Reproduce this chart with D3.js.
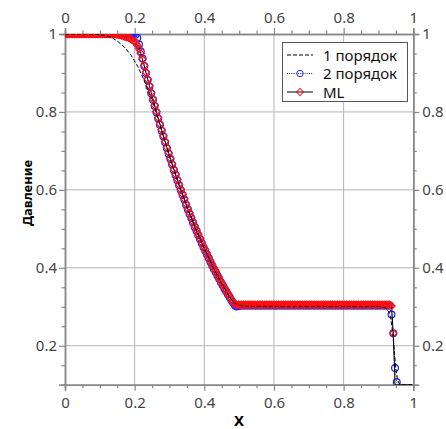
<!DOCTYPE html>
<html>
<head>
<meta charset="utf-8">
<script src="https://cdn.jsdelivr.net/npm/d3@7.9.0/dist/d3.min.js"></script>
<style>
  body { margin: 0; background: #fff; }
  svg { display: block; font-family: "Noto Sans", sans-serif; }
</style>
</head>
<body>
<script>
// cell centres of the 200-cell grid (2nd order and ML)
const xGrid = [
  0.0025,0.0075,0.0125,0.0175,0.0225,0.0275,0.0325,0.0375,0.0425,0.0475,
  0.0525,0.0575,0.0625,0.0675,0.0725,0.0775,0.0825,0.0875,0.0925,0.0975,
  0.1025,0.1075,0.1125,0.1175,0.1225,0.1275,0.1325,0.1375,0.1425,0.1475,
  0.1525,0.1575,0.1625,0.1675,0.1725,0.1775,0.1825,0.1875,0.1925,0.1975,
  0.2025,0.2075,0.2125,0.2175,0.2225,0.2275,0.2325,0.2375,0.2425,0.2475,
  0.2525,0.2575,0.2625,0.2675,0.2725,0.2775,0.2825,0.2875,0.2925,0.2975,
  0.3025,0.3075,0.3125,0.3175,0.3225,0.3275,0.3325,0.3375,0.3425,0.3475,
  0.3525,0.3575,0.3625,0.3675,0.3725,0.3775,0.3825,0.3875,0.3925,0.3975,
  0.4025,0.4075,0.4125,0.4175,0.4225,0.4275,0.4325,0.4375,0.4425,0.4475,
  0.4525,0.4575,0.4625,0.4675,0.4725,0.4775,0.4825,0.4875,0.4925,0.4975,
  0.5025,0.5075,0.5125,0.5175,0.5225,0.5275,0.5325,0.5375,0.5425,0.5475,
  0.5525,0.5575,0.5625,0.5675,0.5725,0.5775,0.5825,0.5875,0.5925,0.5975,
  0.6025,0.6075,0.6125,0.6175,0.6225,0.6275,0.6325,0.6375,0.6425,0.6475,
  0.6525,0.6575,0.6625,0.6675,0.6725,0.6775,0.6825,0.6875,0.6925,0.6975,
  0.7025,0.7075,0.7125,0.7175,0.7225,0.7275,0.7325,0.7375,0.7425,0.7475,
  0.7525,0.7575,0.7625,0.7675,0.7725,0.7775,0.7825,0.7875,0.7925,0.7975,
  0.8025,0.8075,0.8125,0.8175,0.8225,0.8275,0.8325,0.8375,0.8425,0.8475,
  0.8525,0.8575,0.8625,0.8675,0.8725,0.8775,0.8825,0.8875,0.8925,0.8975,
  0.9025,0.9075,0.9125,0.9175,0.9225,0.9275,0.9325,0.9375,0.9425,0.9475,
  0.9525,0.9575,0.9625,0.9675,0.9725,0.9775,0.9825,0.9875,0.9925,0.9975
];

const p2nd = [
  1,1,1,1,1,1,1,1,1,1,
  1,1,1,1,1,1,1,1,1,1,
  1,1,1,1,1,1,1,1,1,1,
  1,1,1,1,1,1,1,1,1,1,
  0.998,0.990,0.973,0.955,0.937,0.918,0.900,0.882,0.865,0.848,
  0.831,0.815,0.799,0.783,0.767,0.752,0.737,0.722,0.707,0.693,
  0.679,0.665,0.651,0.638,0.625,0.612,0.599,0.587,0.575,0.562,
  0.550,0.539,0.528,0.516,0.505,0.495,0.484,0.474,0.463,0.453,
  0.444,0.434,0.425,0.415,0.406,0.397,0.389,0.380,0.372,0.363,
  0.355,0.347,0.340,0.332,0.325,0.317,0.310,0.304,0.301,0.302,
  0.303,0.303,0.303,0.303,0.303,0.303,0.303,0.303,0.303,0.303,
  0.303,0.303,0.303,0.303,0.303,0.303,0.303,0.303,0.303,0.303,
  0.303,0.303,0.303,0.303,0.303,0.303,0.303,0.303,0.303,0.303,
  0.303,0.303,0.303,0.303,0.303,0.303,0.303,0.303,0.303,0.303,
  0.303,0.303,0.303,0.303,0.303,0.303,0.303,0.303,0.303,0.303,
  0.303,0.303,0.303,0.303,0.303,0.303,0.303,0.303,0.303,0.303,
  0.303,0.303,0.303,0.303,0.303,0.303,0.303,0.303,0.303,0.303,
  0.303,0.303,0.303,0.303,0.303,0.303,0.303,0.303,0.303,0.303,
  0.303,0.303,0.303,0.303,0.303,0.303,0.303,0.280,0.232,0.143,
  0.106,0.1,0.1,0.1,0.1,0.1,0.1,0.1,0.1,0.1
];

const pML = [
  1,1,1,1,1,1,1,1,1,1,
  1,1,1,1,1,1,1,1,1,1,
  1,1,1,1,1,1,1,1,1,0.999,
  0.998,0.997,0.996,0.995,0.993,0.992,0.990,0.988,0.985,0.982,
  0.978,0.971,0.962,0.950,0.935,0.919,0.902,0.884,0.867,0.850,
  0.833,0.817,0.801,0.785,0.769,0.754,0.739,0.724,0.709,0.695,
  0.681,0.667,0.653,0.640,0.627,0.614,0.601,0.589,0.577,0.564,
  0.552,0.541,0.530,0.518,0.507,0.497,0.486,0.476,0.465,0.455,
  0.446,0.436,0.427,0.417,0.408,0.399,0.391,0.382,0.374,0.365,
  0.357,0.349,0.342,0.334,0.327,0.319,0.312,0.307,0.305,0.305,
  0.305,0.305,0.305,0.305,0.305,0.305,0.305,0.305,0.305,0.305,
  0.305,0.305,0.305,0.305,0.305,0.305,0.305,0.305,0.305,0.305,
  0.305,0.305,0.305,0.305,0.305,0.305,0.305,0.305,0.305,0.305,
  0.305,0.305,0.305,0.305,0.305,0.305,0.305,0.305,0.305,0.305,
  0.305,0.305,0.305,0.305,0.305,0.305,0.305,0.305,0.305,0.305,
  0.305,0.305,0.305,0.305,0.305,0.305,0.305,0.305,0.305,0.305,
  0.305,0.305,0.305,0.305,0.305,0.305,0.305,0.305,0.305,0.305,
  0.305,0.305,0.305,0.305,0.305,0.305,0.305,0.305,0.305,0.305,
  0.305,0.305,0.305,0.305,0.305,0.305,0.305,0.302,0.232,0.1,
  0.1,0.1,0.1,0.1,0.1,0.1,0.1,0.1,0.1,0.1
];

// 1st order curve (line only)
const x1st = [0, 0.06, 0.09, 0.11, 0.13, 0.15, 0.17, 0.19, 0.21, 0.23, 0.25, 0.27, 0.29,
  0.31, 0.33, 0.35, 0.37, 0.39, 0.41, 0.43, 0.45, 0.47, 0.48, 0.49, 0.50, 0.52, 0.60,
  0.70, 0.80, 0.90, 0.91, 0.92, 0.93, 0.935, 0.94, 0.945, 0.95, 0.955, 0.96, 0.97, 1];
const p1st = [1, 1, 0.999, 0.997, 0.993, 0.982, 0.967, 0.945, 0.915, 0.876, 0.832, 0.774, 0.714,
  0.658, 0.605, 0.556, 0.511, 0.469, 0.430, 0.393, 0.359, 0.329, 0.316, 0.308, 0.304, 0.301, 0.3005,
  0.3005, 0.3005, 0.3005, 0.300, 0.297, 0.287, 0.272, 0.240, 0.190, 0.140, 0.112, 0.102, 0.100, 0.100];

const xMajor = [0, 0.2, 0.4, 0.6, 0.8, 1];
const yMajor = [0.2, 0.4, 0.6, 0.8, 1];
const xMinor = [0.05,0.1,0.15,0.25,0.3,0.35,0.45,0.5,0.55,0.65,0.7,0.75,0.85,0.9,0.95];
const yMinor = [0.1,0.15,0.25,0.3,0.35,0.45,0.5,0.55,0.65,0.7,0.75,0.85,0.9,0.95];
const seriesNames = ["1 порядок", "2 порядок", "ML"];

const width = 446, height = 429;
const plotLeft = 65, plotRight = 413.3, plotTop = 34, plotBottom = 384.7;

const x = d3.scaleLinear().domain([0, 1]).range([plotLeft, plotRight]);
const y = d3.scaleLinear().domain([0.1, 1]).range([plotBottom, plotTop]);

const svg = d3.select("body").append("svg").attr("width", width).attr("height", height);

svg.append("defs").append("clipPath").attr("id", "plot-clip")
  .append("rect").attr("x", plotLeft).attr("y", plotTop)
  .attr("width", plotRight - plotLeft).attr("height", plotBottom - plotTop);

// grid
const grid = svg.append("g").attr("stroke", "#b4b4b4").attr("stroke-width", 1);
grid.selectAll(".gx").data(xMajor.slice(1, -1)).join("line")
  .attr("x1", (d) => x(d)).attr("x2", (d) => x(d)).attr("y1", plotTop).attr("y2", plotBottom);
grid.selectAll(".gy").data(yMajor.slice(0, -1)).join("line")
  .attr("y1", (d) => y(d)).attr("y2", (d) => y(d)).attr("x1", plotLeft).attr("x2", plotRight);

function styleAxis(g) {
  g.select(".domain").attr("stroke", "#888").attr("stroke-width", 1.5);
  g.selectAll(".tick line").attr("stroke", "#888").attr("stroke-width", 1.2);
  g.selectAll(".tick text").attr("fill", "#444")
    .style("font-family", "'Noto Sans', sans-serif").style("font-size", "15px");
}

const fmt = d3.format("~g");

function addAxis(axisFn, scale, major, minor, translate, pad) {
  svg.append("g").attr("transform", translate)
    .call(axisFn(scale).tickValues(minor).tickSize(3.5).tickFormat(""))
    .call(styleAxis);
  svg.append("g").attr("transform", translate)
    .call(axisFn(scale).tickValues(major).tickSize(6).tickPadding(pad).tickFormat(fmt))
    .call(styleAxis);
}

addAxis(d3.axisBottom, x, xMajor, xMinor, `translate(0,${plotBottom})`, 7);
addAxis(d3.axisTop, x, xMajor, xMinor, `translate(0,${plotTop})`, 5);
addAxis(d3.axisLeft, y, yMajor, yMinor, `translate(${plotLeft},0)`, 2);
addAxis(d3.axisRight, y, yMajor, yMinor, `translate(${plotRight},0)`, 3);

// axis titles
svg.append("text").attr("x", (plotLeft + plotRight) / 2).attr("y", 425.5)
  .attr("text-anchor", "middle").attr("font-weight", "bold").attr("font-size", 15)
  .attr("fill", "#000").text("X");
svg.append("text")
  .attr("transform", `translate(31.5,193) rotate(-90)`)
  .attr("text-anchor", "middle").attr("font-weight", "bold").attr("font-size", 13)
  .attr("fill", "#000").text("Давление");

// data
const data2 = xGrid.map((d, i) => ({ x: d, y: p2nd[i] }));
const dataML = xGrid.map((d, i) => ({ x: d, y: pML[i] }));
const data1 = x1st.map((d, i) => ({ x: d, y: p1st[i] }));

const line = d3.line().x((d) => x(d.x)).y((d) => y(d.y));
const plot = svg.append("g").attr("clip-path", "url(#plot-clip)");

const diamond = d3.symbol(d3.symbolSquare, 26);

// 2nd order
plot.append("path").datum(data2).attr("d", line).attr("fill", "none")
  .attr("stroke", "#2a2a44").attr("stroke-width", 1).attr("stroke-dasharray", "1,1.2");
plot.append("g").selectAll("circle").data(data2.filter((d) => d.y > 0.1001)).join("circle")
  .attr("cx", (d) => x(d.x)).attr("cy", (d) => y(d.y)).attr("r", 3.4)
  .attr("fill", "none").attr("stroke", "#1f1fff").attr("stroke-width", 1.2);

// ML
plot.append("path").datum(dataML).attr("d", line).attr("fill", "none")
  .attr("stroke", "#000").attr("stroke-width", 1);
plot.append("g").selectAll("path").data(dataML.filter((d) => d.y > 0.1001)).join("path")
  .attr("d", diamond)
  .attr("transform", (d) => `translate(${x(d.x)},${y(d.y)}) rotate(45)`)
  .attr("fill", "none").attr("stroke", "#ff1010").attr("stroke-width", 1.2);

// 1st order
plot.append("path").datum(data1).attr("d", line).attr("fill", "none")
  .attr("stroke", "#000").attr("stroke-width", 1).attr("stroke-dasharray", "4,2");

// legend
const lg = svg.append("g");
lg.append("rect").attr("x", 282.5).attr("y", 42.5).attr("width", 125).attr("height", 59)
  .attr("fill", "#fff").attr("stroke", "#555").attr("stroke-width", 1);
const rowsY = [55, 73.5, 92];
const dashes = ["4,2", "1,1.2", null];
const strokes = ["#000", "#2a2a44", "#000"];
seriesNames.forEach((name, i) => {
  const g = lg.append("g").attr("transform", `translate(0,${rowsY[i]})`);
  g.append("line").attr("x1", 287).attr("x2", 313).attr("y1", 0).attr("y2", 0)
    .attr("stroke", strokes[i]).attr("stroke-width", 1)
    .attr("stroke-dasharray", dashes[i]);
  if (i === 1) {
    g.append("circle").attr("cx", 300).attr("cy", 0).attr("r", 3.2)
      .attr("fill", "none").attr("stroke", "#1f1fff");
  }
  if (i === 2) {
    g.append("path").attr("d", diamond).attr("transform", "translate(300,0) rotate(45)")
      .attr("fill", "none").attr("stroke", "#ff1010");
  }
  g.append("text").attr("x", 323).attr("y", 5.5).attr("font-size", 15)
    .attr("fill", "#111").text(name);
});
</script>
</body>
</html>
